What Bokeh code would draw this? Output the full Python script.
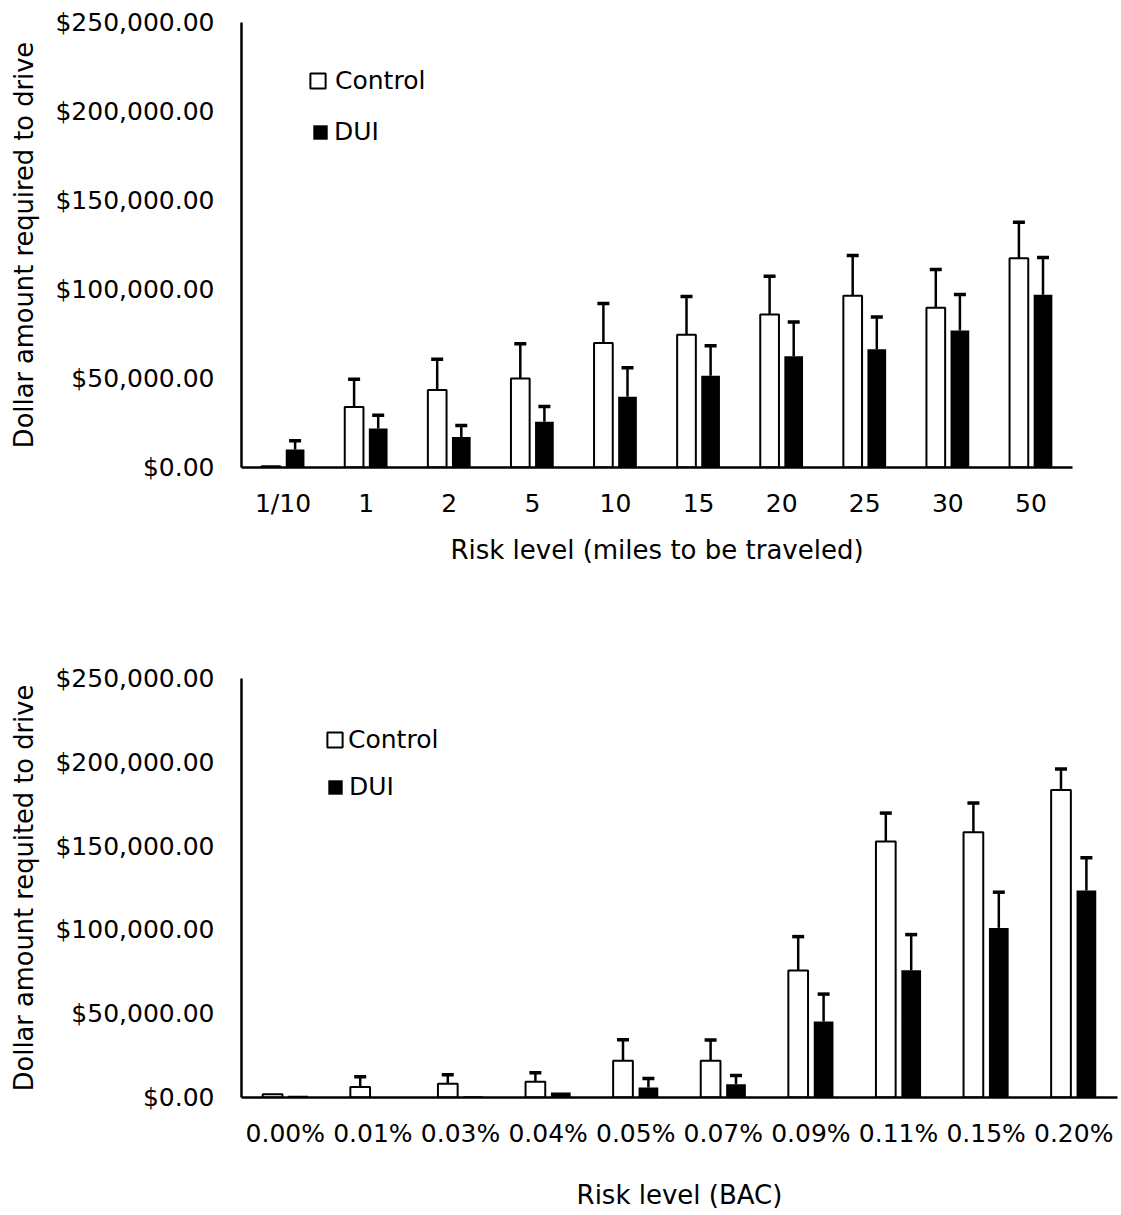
from bokeh.plotting import figure
from bokeh.models import (FactorRange, Range1d, FixedTicker, NumeralTickFormatter,
                          ColumnDataSource, Legend, LegendItem)
from bokeh.transform import dodge
from bokeh.embed import file_html
from bokeh.resources import INLINE

# ---------------- data ----------------
miles = ["1/10", "1", "2", "5", "10", "15", "20", "25", "30", "50"]
miles_control = [700, 34000, 43500, 50000, 70000, 74600, 86000, 96500, 89800, 117600]
miles_control_hi = [None, 49600, 60800, 69500, 92100, 96100, 107500, 119100, 111200, 137800]
miles_dui = [10100, 21900, 17200, 25700, 39700, 51500, 62500, 66500, 77000, 97000]
miles_dui_hi = [15000, 29400, 23600, 34300, 56000, 68400, 81800, 84500, 97200, 118000]

bac = ["0.00%", "0.01%", "0.03%", "0.04%", "0.05%", "0.07%", "0.09%", "0.11%", "0.15%", "0.20%"]
bac_control = [2000, 6300, 8200, 9400, 22000, 22000, 75800, 152800, 158300, 183400]
bac_control_hi = [None, 12400, 13560, 14760, 34500, 34300, 96000, 169700, 175700, 196000]
bac_dui = [1000, 0, 800, 3000, 6000, 7950, 45400, 75900, 101200, 123500]
bac_dui_hi = [None, None, None, None, 11350, 13150, 61700, 97200, 122500, 143000]

y_ticks = [0, 50000, 100000, 150000, 200000, 250000]

FONT = "DejaVu Sans"
OFF = 0.145
BW = 0.225


def err_source(cats, vals, his):
    keep = [i for i, h in enumerate(his) if h is not None and h > vals[i]]
    return ColumnDataSource(dict(cat=[cats[i] for i in keep],
                                 lo=[vals[i] for i in keep],
                                 hi=[his[i] for i in keep]))


def make_chart(cats, ctrl, ctrl_hi, dui, dui_hi, ytitle, xtitle, width, height,
               border_top, border_bottom, border_right, xlabel_standoff, legs):
    p = figure(x_range=FactorRange(*cats), y_range=Range1d(0, 250000),
               width=width, height=height, output_backend="svg",
               toolbar_location=None, min_border_left=241,
               min_border_top=border_top, min_border_bottom=border_bottom,
               min_border_right=border_right)
    p.outline_line_color = None
    p.xgrid.visible = False
    p.ygrid.visible = False
    p.background_fill_color = "white"

    src = ColumnDataSource(dict(cat=cats, ctrl=ctrl, dui=dui))
    r_c = p.vbar(x=dodge("cat", -OFF, range=p.x_range), top="ctrl", width=BW,
                 source=src, fill_color="white", line_color="black", line_width=2)
    r_d = p.vbar(x=dodge("cat", OFF, range=p.x_range), top="dui", width=BW,
                 source=src, fill_color="black", line_color=None)

    for vals, his, off in ((ctrl, ctrl_hi, -OFF), (dui, dui_hi, OFF)):
        es = err_source(cats, vals, his)
        xs = dodge("cat", off, range=p.x_range)
        p.segment(x0=xs, y0="lo", x1=xs, y1="hi", source=es,
                  line_color="black", line_width=2.5)
        p.scatter(x=xs, y="hi", source=es, marker="dash", size=12,
                  line_color="black", line_width=3.5)

    for ax in (p.xaxis[0], p.yaxis[0]):
        ax.axis_line_color = "black"
        ax.axis_line_width = 2.5
        ax.major_tick_line_color = None
        ax.minor_tick_line_color = None
        ax.major_tick_out = 0
        ax.major_tick_in = 0
        ax.minor_tick_out = 0
        ax.minor_tick_in = 0
        ax.major_label_text_font = FONT
        ax.major_label_text_font_size = "25px"
        ax.major_label_text_color = "black"
        ax.axis_label_text_font = FONT
        ax.axis_label_text_font_style = "normal"
        ax.axis_label_text_color = "black"

    p.yaxis.ticker = FixedTicker(ticks=y_ticks)
    p.yaxis.formatter = NumeralTickFormatter(format="$0,0.00")
    p.yaxis.major_label_standoff = 27
    p.yaxis.axis_label = ytitle
    p.yaxis.axis_label_text_font_size = "25.7px"
    p.yaxis.axis_label_standoff = 13

    p.xaxis.axis_label = xtitle
    p.xaxis.axis_label_text_font_size = "26px"
    p.xaxis.major_label_standoff = 21
    p.xaxis.axis_label_standoff = xlabel_standoff

    renderers = {"Control": r_c, "DUI": r_d}
    for label, gs, loc, standoff in legs:
        leg = Legend(items=[LegendItem(label=label, renderers=[renderers[label]])],
                     location=loc, glyph_width=gs, glyph_height=gs,
                     label_standoff=standoff,
                     label_text_font=FONT, label_text_font_size="25px",
                     label_text_color="black", label_height=16,
                     border_line_color=None, background_fill_alpha=0,
                     padding=0, margin=0, spacing=0)
        p.add_layout(leg)
    return p


p1 = make_chart(miles, miles_control, miles_control_hi, miles_dui, miles_dui_hi,
                "Dollar amount required to drive", "Risk level (miles to be traveled)",
                width=1110, height=610, border_top=22, border_bottom=143, border_right=38,
                xlabel_standoff=14,
                legs=[("Control", 19, (67, 372), 8), ("DUI", 18, (70, 321), 5)])

p2 = make_chart(bac, bac_control, bac_control_hi, bac_dui, bac_dui_hi,
                "Dollar amount requited to drive", "Risk level (BAC)",
                width=1120, height=603, border_top=68, border_bottom=116, border_right=3,
                xlabel_standoff=29,
                legs=[("Control", 19, (84, 343), 4), ("DUI", 18, (85, 296), 5)])

open("out.html", "w").write(file_html([p1, p2], INLINE))
